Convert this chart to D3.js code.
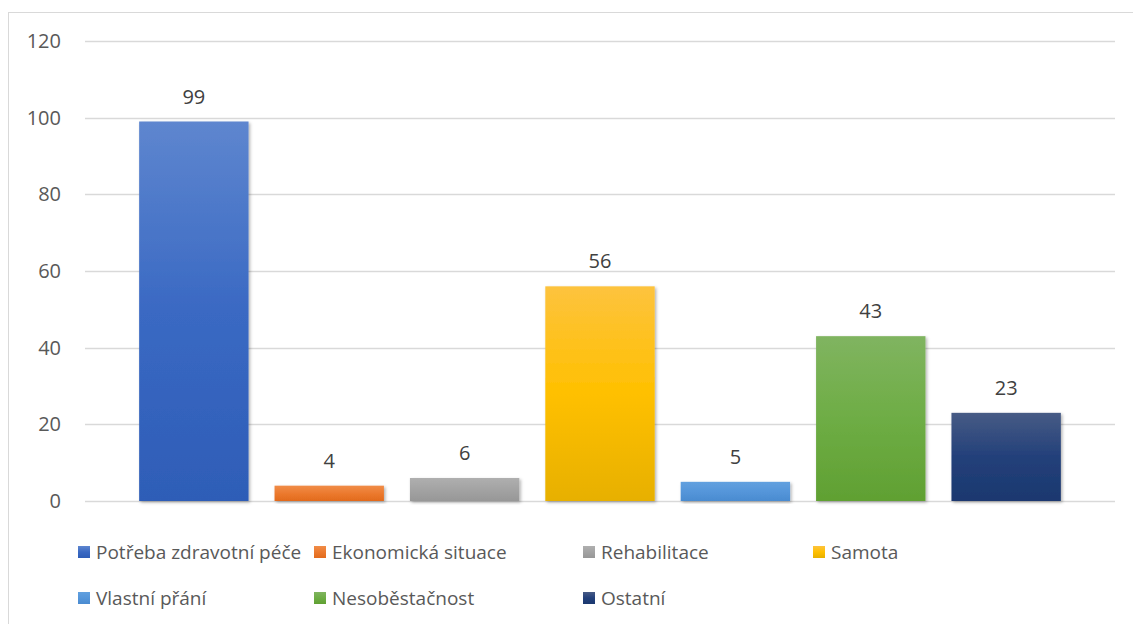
<!DOCTYPE html>
<html>
<head>
<meta charset="utf-8">
<script src="https://cdn.jsdelivr.net/npm/d3@7"></script>
<style>
  body { margin: 0; background: #fff; }
  svg text { font-family: "Open Sans", "Noto Sans", sans-serif; }
</style>
</head>
<body>
<div id="bar-chart"></div>
<script>
// chart data
const categories = ["Potřeba zdravotní péče", "Ekonomická situace", "Rehabilitace", "Samota",
                    "Vlastní přání", "Nesoběstačnost", "Ostatní"];
const values = [99, 4, 6, 56, 5, 43, 23];
const yTicks = [0, 20, 40, 60, 80, 100, 120];

// top / middle / bottom gradient colours for each bar
const topColors = ["#5e86cf", "#f08c48", "#afafaf", "#fdc33e", "#61a0df", "#80b460", "#475b85"];
const midColors = ["#3a69c3", "#ec7a2e", "#a3a3a3", "#ffc000", "#5596da", "#6ead45", "#23407a"];
const botColors = ["#2e5db7", "#e26a1c", "#979797", "#e7b000", "#4a8bd0", "#60a032", "#1b386f"];

const width = 1133, height = 624;
const margin = {top: 41, right: 18, bottom: 123, left: 85};

const svg = d3.select("#bar-chart")
              .append("svg")
              .attr("width", width)
              .attr("height", height);

// outer chart frame
svg.append("rect")
   .attr("x", 8.5).attr("y", 12.5)
   .attr("width", 1140).attr("height", 640)
   .attr("fill", "none")
   .attr("stroke", "#d9d9d9")
   .attr("stroke-width", 1);

const defs = svg.append("defs");

// soft shadow under the bars
const shadow = defs.append("filter")
                   .attr("id", "shadow")
                   .attr("x", "-10%").attr("y", "-10%")
                   .attr("width", "125%").attr("height", "125%");
shadow.append("feDropShadow")
      .attr("dx", 1.5).attr("dy", 1.5)
      .attr("stdDeviation", 1.5)
      .attr("flood-color", "#000")
      .attr("flood-opacity", 0.3);

categories.forEach((c, i) => {
    const g = defs.append("linearGradient")
                  .attr("id", "grad" + i)
                  .attr("x1", 0).attr("y1", 0)
                  .attr("x2", 0).attr("y2", 1);
    g.append("stop").attr("offset", "0%").attr("stop-color", topColors[i]);
    g.append("stop").attr("offset", "50%").attr("stop-color", midColors[i]);
    g.append("stop").attr("offset", "100%").attr("stop-color", botColors[i]);
});

// scales
const x = d3.scaleBand()
            .domain(categories)
            .range([margin.left, width - margin.right])
            .paddingInner(0.192)
            .paddingOuter(0.4);

const y = d3.scaleLinear()
            .domain([0, 120])
            .range([501, margin.top]);

// gridlines
svg.append("g")
   .selectAll("line")
   .data(yTicks)
   .enter().append("line")
   .attr("x1", margin.left)
   .attr("x2", width - margin.right)
   .attr("y1", d => Math.round(y(d)) + 0.5)
   .attr("y2", d => Math.round(y(d)) + 0.5)
   .attr("stroke", "#d9d9d9")
   .attr("stroke-width", 1.3);

// y-axis labels
const yAxis = svg.append("g")
                 .attr("transform", "translate(61,0)")
                 .call(d3.axisLeft(y).tickValues(yTicks).tickSize(0).tickPadding(0));
yAxis.select(".domain").remove();
yAxis.selectAll("text")
     .attr("fill", "#595959")
     .style("font-size", "20px");

// bars
svg.selectAll(".bar")
   .data(values)
   .enter().append("rect")
   .attr("class", "bar")
   .attr("x", (d, i) => x(categories[i]))
   .attr("y", d => y(d))
   .attr("width", x.bandwidth())
   .attr("height", d => y(0) - y(d))
   .attr("fill", (d, i) => `url(#grad${i})`)
   .attr("filter", "url(#shadow)");

// value labels
svg.selectAll(".value")
   .data(values)
   .enter().append("text")
   .attr("class", "value")
   .attr("x", (d, i) => x(categories[i]) + x.bandwidth() / 2)
   .attr("y", d => y(d) - 18)
   .attr("text-anchor", "middle")
   .attr("fill", "#404040")
   .style("font-size", "20px")
   .text(d => d);

// legend (two rows, Excel style)
const legendX = [78, 314, 583, 813];
const legendY = [552, 598];
const legend = svg.append("g");
categories.forEach((c, i) => {
    const lx = legendX[i % 4], ly = legendY[Math.floor(i / 4)];
    legend.append("rect")
          .attr("x", lx).attr("y", ly - 6)
          .attr("width", 12).attr("height", 12)
          .attr("fill", `url(#grad${i})`);
    legend.append("text")
          .attr("x", lx + 18).attr("y", ly)
          .attr("dy", "0.35em")
          .attr("fill", "#595959")
          .style("font-size", "19px")
          .text(c);
});
</script>
</body>
</html>
